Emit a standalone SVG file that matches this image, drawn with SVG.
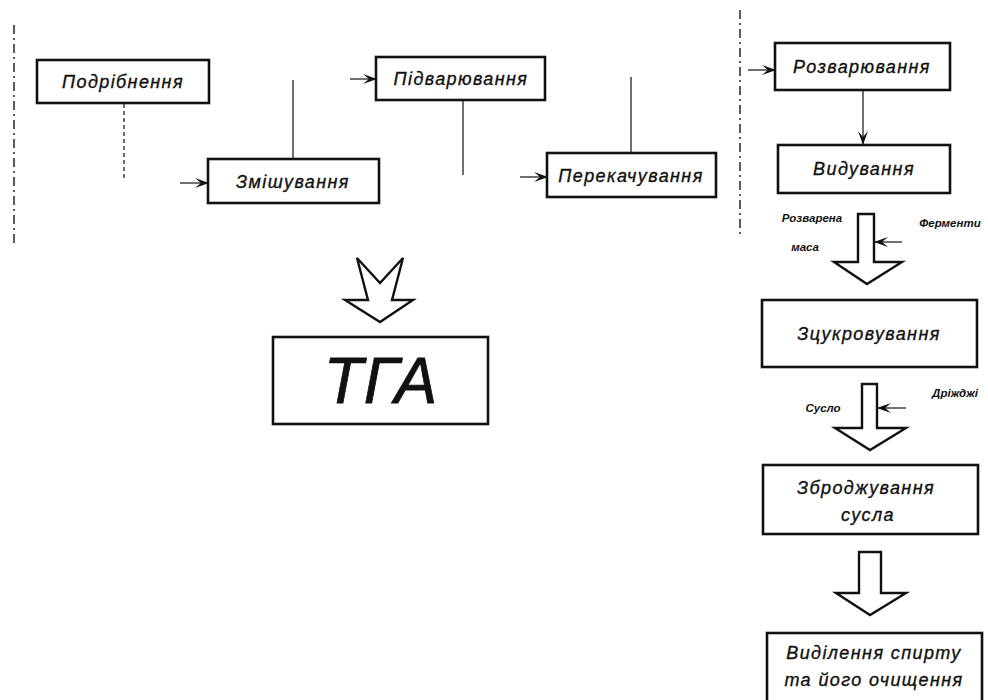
<svg xmlns="http://www.w3.org/2000/svg" width="988" height="700" viewBox="0 0 988 700">
<defs>
<style>
.box{fill:#fff;stroke:#111;stroke-width:2.6}
.t{font-family:"Liberation Sans",Arial,sans-serif;font-style:italic;font-size:18px;letter-spacing:1.4px;fill:#111;stroke:#111;stroke-width:0.35;text-anchor:middle}
.s{font-family:"Liberation Sans",Arial,sans-serif;font-style:italic;font-weight:bold;font-size:11.5px;fill:#111;text-anchor:middle}
.ln{stroke:#222;stroke-width:1.3;fill:none}
.dash{stroke:#333;stroke-width:1.6;fill:none;stroke-dasharray:9 4 2 4}
.big{fill:#fff;stroke:#111;stroke-width:2.4;stroke-linejoin:miter}
</style>
<marker id="ah" viewBox="0 0 14 10" refX="13" refY="5" markerWidth="14" markerHeight="10" markerUnits="userSpaceOnUse" orient="auto">
<path d="M0,0 L14,5 L0,10 L6,5 Z" fill="#111"/>
</marker>
</defs>
<g id="borders">
<line class="dash" x1="14" y1="25" x2="14" y2="245"/>
<line class="dash" x1="740" y1="10" x2="740" y2="236"/>
</g>
<g id="connectors">
<line class="ln" x1="124" y1="104" x2="124" y2="180" stroke-dasharray="4 3"/>
<line class="ln" x1="293" y1="80" x2="293" y2="159"/>
<line class="ln" x1="463" y1="101" x2="463" y2="175"/>
<line class="ln" x1="631" y1="77" x2="631" y2="153"/>
<line class="ln" x1="180" y1="183" x2="208" y2="183" marker-end="url(#ah)" stroke-width="2"/>
<line class="ln" x1="350" y1="79" x2="376" y2="79" marker-end="url(#ah)" stroke-width="2"/>
<line class="ln" x1="520" y1="177" x2="547" y2="177" marker-end="url(#ah)" stroke-width="2"/>
<line class="ln" x1="748" y1="70" x2="775" y2="70" marker-end="url(#ah)" stroke-width="2"/>
<line class="ln" x1="863" y1="91" x2="863" y2="144" marker-end="url(#ah)"/>
<line class="ln" x1="902" y1="242" x2="875" y2="242" marker-end="url(#ah)" stroke-width="1.6"/>
<line class="ln" x1="906" y1="408" x2="878" y2="408" marker-end="url(#ah)" stroke-width="1.6"/>
<path class="big" d="M357,258 L380,283 L403,258 L392,300 L413,300 L380,322 L345,300 L368,300 Z"/>
<path class="big" d="M858,214 L874,214 L874,262 L902,262 L867,284 L834,262 L858,262 Z"/>
<path class="big" d="M862,384 L877,384 L877,428 L906,428 L870,450 L835,428 L862,428 Z"/>
<path class="big" d="M859,552 L881,552 L881,593 L906,593 L870,615 L836,593 L859,593 Z"/>
</g>
<g id="podribnennya"><rect class="box" x="37" y="60" width="172" height="43"/><text class="t" x="123" y="88">Подрібнення</text></g>
<g id="zmishuvannya"><rect class="box" x="208" y="159" width="171" height="44"/><text class="t" x="293" y="188">Змішування</text></g>
<g id="pidvaryuvannya"><rect class="box" x="376" y="57" width="169" height="43"/><text class="t" x="461" y="85">Підварювання</text></g>
<g id="perekachuvannya"><rect class="box" x="547" y="153" width="169" height="44"/><text class="t" x="631" y="182">Перекачування</text></g>
<g id="rozvaryuvannya"><rect class="box" x="775" y="43" width="175" height="47"/><text class="t" x="862" y="73">Розварювання</text></g>
<g id="vyduvannya"><rect class="box" x="778" y="145" width="172" height="48"/><text class="t" x="864" y="175">Видування</text></g>
<g id="labels1"><text class="s" x="812" y="222">Розварена</text><text class="s" x="805" y="251">маса</text><text class="s" x="950" y="227">Ферменти</text></g>
<g id="zcukrovuvannya"><rect class="box" x="762" y="300" width="215" height="67"/><text class="t" x="869" y="340">Зцукровування</text></g>
<g id="labels2"><text class="s" x="823" y="412">Сусло</text><text class="s" x="955" y="397">Дріжджі</text></g>
<g id="zbrodzhuvannya"><rect class="box" x="763" y="465" width="215" height="69"/><text class="t" x="866" y="494">Зброджування</text><text class="t" x="868" y="521">сусла</text></g>
<g id="vydilennya"><rect class="box" x="767" y="633" width="215" height="70"/><text class="t" x="874" y="659">Виділення спирту</text><text class="t" x="874" y="686">та його очищення</text></g>
<g id="tga"><rect class="box" x="273" y="337" width="215" height="87"/><text x="381" y="403" font-family="Liberation Sans,Arial,sans-serif" font-style="italic" font-size="64" fill="#111" stroke="#111" stroke-width="0.8" text-anchor="middle" letter-spacing="1">ТГА</text></g>
</svg>
